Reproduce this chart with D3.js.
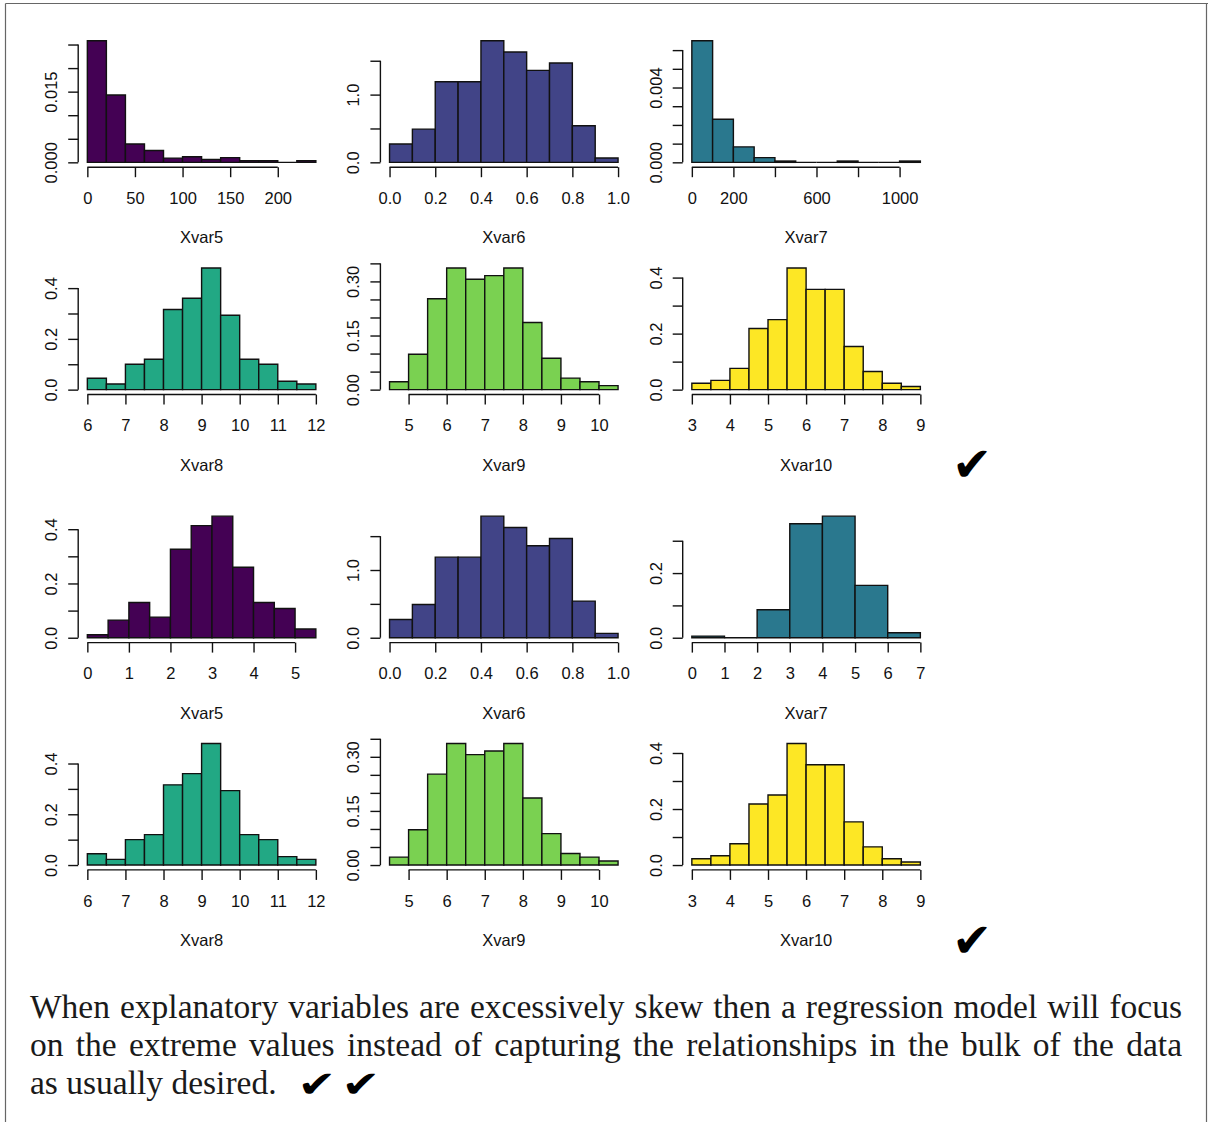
<!DOCTYPE html>
<html>
<head>
<meta charset="utf-8">
<script src="https://cdn.jsdelivr.net/npm/d3@7"></script>
<style>
  html, body { margin: 0; padding: 0; background: #fff; }
  svg { display: block; }
</style>
</head>
<body>
<svg id="page" width="1208" height="1122"></svg>
<script>
// ---- Histogram data: bin edges and densities per variable ----
// Raw (skewed) versions
const xvar5RawBreaks = [0, 20, 40, 60, 80, 100, 120, 140, 160, 180, 200, 220, 240];
const xvar5RawDensity = [0.0258, 0.0143, 0.0039, 0.0025, 0.0009, 0.0012, 0.0006, 0.0010, 0.00035, 0.00035, 0, 0.00035];
const xvar7RawBreaks = [0, 100, 200, 300, 400, 500, 600, 700, 800, 900, 1000, 1100];
const xvar7RawDensity = [0.0065, 0.0023, 0.000825, 0.00025, 0.00007, 0, 0, 0.00007, 0, 0, 0.00007];
// Transformed versions
const xvar5LogBreaks = [0, 0.5, 1, 1.5, 2, 2.5, 3, 3.5, 4, 4.5, 5, 5.5];
const xvar5LogDensity = [0.011, 0.065, 0.13, 0.076, 0.326, 0.413, 0.448, 0.26, 0.13, 0.108, 0.032];
const xvar7LogBreaks = [0, 1, 2, 3, 4, 5, 6, 7];
const xvar7LogDensity = [0.005, 0, 0.0866, 0.3526, 0.376, 0.162, 0.0155];
// Unchanged variables
const xvar6Breaks = [0, 0.1, 0.2, 0.3, 0.4, 0.5, 0.6, 0.7, 0.8, 0.9, 1.0];
const xvar6Density = [0.27, 0.49, 1.19, 1.19, 1.795, 1.628, 1.358, 1.466, 0.541, 0.064];
const xvar8Breaks = [6, 6.5, 7, 7.5, 8, 8.5, 9, 9.5, 10, 10.5, 11, 11.5, 12];
const xvar8Density = [0.0447, 0.0224, 0.1, 0.12, 0.316, 0.36, 0.479, 0.293, 0.12, 0.1, 0.033, 0.0224];
const xvar9Breaks = [4.5, 5, 5.5, 6, 6.5, 7, 7.5, 8, 8.5, 9, 9.5, 10, 10.5];
const xvar9Density = [0.022, 0.098, 0.252, 0.337, 0.306, 0.316, 0.337, 0.186, 0.087, 0.032, 0.022, 0.011];
const xvar10Breaks = [3, 3.5, 4, 4.5, 5, 5.5, 6, 6.5, 7, 7.5, 8, 8.5, 9];
const xvar10Density = [0.0226, 0.033, 0.076, 0.218, 0.25, 0.434, 0.358, 0.358, 0.154, 0.065, 0.0226, 0.011];

// ---- Axis ticks and their labels ("" = tick without label) ----
const xvar5RawXTicks = [0, 50, 100, 150, 200];
const xvar5RawXLabels = ["0", "50", "100", "150", "200"];
const xvar5RawYTicks = [0, 0.005, 0.010, 0.015, 0.020, 0.025];
const xvar5RawYLabels = ["0.000", "", "", "0.015", "", ""];

const xvar6XTicks = [0, 0.2, 0.4, 0.6, 0.8, 1.0];
const xvar6XLabels = ["0.0", "0.2", "0.4", "0.6", "0.8", "1.0"];
const xvar6YTicks = [0, 0.5, 1.0, 1.5];
const xvar6YLabels = ["0.0", "", "1.0", ""];

const xvar7RawXTicks = [0, 200, 400, 600, 800, 1000];
const xvar7RawXLabels = ["0", "200", "", "600", "", "1000"];
const xvar7RawYTicks = [0, 0.001, 0.002, 0.003, 0.004, 0.005, 0.006];
const xvar7RawYLabels = ["0.000", "", "", "", "0.004", "", ""];

const xvar8XTicks = [6, 7, 8, 9, 10, 11, 12];
const xvar8XLabels = ["6", "7", "8", "9", "10", "11", "12"];
const xvar8YTicks = [0, 0.1, 0.2, 0.3, 0.4];
const xvar8YLabels = ["0.0", "", "0.2", "", "0.4"];

const xvar9XTicks = [5, 6, 7, 8, 9, 10];
const xvar9XLabels = ["5", "6", "7", "8", "9", "10"];
const xvar9YTicks = [0, 0.05, 0.10, 0.15, 0.20, 0.25, 0.30, 0.35];
const xvar9YLabels = ["0.00", "", "", "0.15", "", "", "0.30", ""];

const xvar10XTicks = [3, 4, 5, 6, 7, 8, 9];
const xvar10XLabels = ["3", "4", "5", "6", "7", "8", "9"];
const xvar10YTicks = [0, 0.1, 0.2, 0.3, 0.4];
const xvar10YLabels = ["0.0", "", "0.2", "", "0.4"];

const xvar5LogXTicks = [0, 1, 2, 3, 4, 5];
const xvar5LogXLabels = ["0", "1", "2", "3", "4", "5"];
const xvar5LogYTicks = [0, 0.1, 0.2, 0.3, 0.4];
const xvar5LogYLabels = ["0.0", "", "0.2", "", "0.4"];

const xvar7LogXTicks = [0, 1, 2, 3, 4, 5, 6, 7];
const xvar7LogXLabels = ["0", "1", "2", "3", "4", "5", "6", "7"];
const xvar7LogYTicks = [0, 0.1, 0.2, 0.3];
const xvar7LogYLabels = ["0.0", "", "0.2", ""];

const variableNames = ["Xvar5", "Xvar6", "Xvar7", "Xvar8", "Xvar9", "Xvar10"];
const viridis6 = ["#440154", "#414487", "#2A788E", "#22A884", "#7AD151", "#FDE725"];

const paragraphLines = [
  "When explanatory variables are excessively skew then a regression model will focus",
  "on the extreme values instead of capturing the relationships in the bulk of the data",
  "as usually desired."
];
const checkMark = "\u2714";

// ---- Panel assembly ----
function panel(name, color, breaks, density, xt, xl, yt, yl) {
  return { name, color, breaks, density, xt, xl, yt, yl };
}
const rowSkewTop = [
  panel(variableNames[0], viridis6[0], xvar5RawBreaks, xvar5RawDensity, xvar5RawXTicks, xvar5RawXLabels, xvar5RawYTicks, xvar5RawYLabels),
  panel(variableNames[1], viridis6[1], xvar6Breaks, xvar6Density, xvar6XTicks, xvar6XLabels, xvar6YTicks, xvar6YLabels),
  panel(variableNames[2], viridis6[2], xvar7RawBreaks, xvar7RawDensity, xvar7RawXTicks, xvar7RawXLabels, xvar7RawYTicks, xvar7RawYLabels)
];
const rowCommon = [
  panel(variableNames[3], viridis6[3], xvar8Breaks, xvar8Density, xvar8XTicks, xvar8XLabels, xvar8YTicks, xvar8YLabels),
  panel(variableNames[4], viridis6[4], xvar9Breaks, xvar9Density, xvar9XTicks, xvar9XLabels, xvar9YTicks, xvar9YLabels),
  panel(variableNames[5], viridis6[5], xvar10Breaks, xvar10Density, xvar10XTicks, xvar10XLabels, xvar10YTicks, xvar10YLabels)
];
const rowTransTop = [
  panel(variableNames[0], viridis6[0], xvar5LogBreaks, xvar5LogDensity, xvar5LogXTicks, xvar5LogXLabels, xvar5LogYTicks, xvar5LogYLabels),
  panel(variableNames[1], viridis6[1], xvar6Breaks, xvar6Density, xvar6XTicks, xvar6XLabels, xvar6YTicks, xvar6YLabels),
  panel(variableNames[2], viridis6[2], xvar7LogBreaks, xvar7LogDensity, xvar7LogXTicks, xvar7LogXLabels, xvar7LogYTicks, xvar7LogYLabels)
];
const rows = [rowSkewTop, rowCommon, rowTransTop, rowCommon];

// ---- Layout ----
const colLeft = [78.2, 380.4, 682.7];
const rowBottom = [167.2, 394.5, 642.6, 869.9];
const plotW = 246.8, plotH = 131.3;
const fontSans = "'Liberation Sans', Arial, Helvetica, sans-serif";
const ink = "#111";

const svg = d3.select("#page");

// page frame
const frame = svg.append("g").attr("stroke", "#666").attr("stroke-width", 1.2).attr("fill", "none");
frame.append("line").attr("x1", 5.5).attr("x2", 1208).attr("y1", 3.5).attr("y2", 3.5);
frame.append("line").attr("x1", 5.5).attr("x2", 5.5).attr("y1", 3.5).attr("y2", 1122);
frame.append("line").attr("x1", 1206.5).attr("x2", 1206.5).attr("y1", 3.5).attr("y2", 1122);

function drawHist(p, left, bottom) {
  const b0 = p.breaks[0], b1 = p.breaks[p.breaks.length - 1];
  const xr = b1 - b0;
  const m = d3.max(p.density);
  const x = d3.scaleLinear().domain([b0 - 0.04 * xr, b1 + 0.04 * xr]).range([left, left + plotW]);
  const y = d3.scaleLinear().domain([-0.04 * m, 1.04 * m]).range([bottom, bottom - plotH]);
  const g = svg.append("g");

  // bars (paths so that empty bins still show as a line)
  g.selectAll("path.bar").data(p.density).join("path")
    .attr("class", "bar")
    .attr("d", (d, i) => {
      const xa = x(p.breaks[i]), xb = x(p.breaks[i + 1]);
      return `M${xa},${y(0)}V${y(d)}H${xb}V${y(0)}Z`;
    })
    .attr("fill", p.color)
    .attr("stroke", ink)
    .attr("stroke-width", 1.4)
    .attr("stroke-linejoin", "miter");

  // x axis
  const xa = g.append("g").attr("transform", `translate(0,${bottom})`)
    .call(d3.axisBottom(x).tickValues(p.xt).tickFormat((d, i) => p.xl[i]).tickSize(10).tickSizeOuter(0).tickPadding(15));
  xa.select(".domain").attr("d", `M${x(p.xt[0])},0H${x(p.xt[p.xt.length - 1])}`);
  xa.selectAll("line, .domain").attr("stroke", ink).attr("stroke-width", 1.4);
  xa.selectAll("text").attr("font-family", fontSans).attr("font-size", 16.5).attr("fill", ink);

  // y axis with labels parallel to the axis
  const ya = g.append("g").attr("transform", `translate(${left},0)`)
    .call(d3.axisLeft(y).tickValues(p.yt).tickFormat((d, i) => p.yl[i]).tickSize(10).tickSizeOuter(0));
  ya.select(".domain").attr("d", `M0,${y(p.yt[0])}V${y(p.yt[p.yt.length - 1])}`);
  ya.selectAll("line, .domain").attr("stroke", ink).attr("stroke-width", 1.4);
  ya.selectAll("text")
    .attr("x", null).attr("dy", null)
    .attr("transform", "translate(-21,0) rotate(-90)")
    .attr("text-anchor", "middle")
    .attr("font-family", fontSans).attr("font-size", 16.5).attr("fill", ink);
  g.selectAll(".domain").attr("fill", "none");
  xa.attr("font-family", null).attr("font-size", null);
  ya.attr("font-family", null).attr("font-size", null);

  // axis title
  g.append("text")
    .attr("x", left + plotW / 2).attr("y", bottom + 76)
    .attr("text-anchor", "middle")
    .attr("font-family", fontSans).attr("font-size", 16.5).attr("fill", ink)
    .text(p.name);
}

rows.forEach((row, r) => row.forEach((p, c) => drawHist(p, colLeft[c], rowBottom[r])));

// check marks beside each figure
[464.5, 940.5].forEach(cy => {
  svg.append("text").attr("x", 972).attr("y", cy + 16)
    .attr("text-anchor", "middle")
    .attr("font-family", "'DejaVu Sans', sans-serif").attr("font-size", 48).attr("fill", "#000")
    .text(checkMark);
});

// paragraph below the figures, justified over the first two lines
const textLeft = 30, textRight = 1182;
const serif = "'Liberation Serif', 'Times New Roman', serif";
const baselines = [1018, 1056, 1094];
paragraphLines.forEach((line, li) => {
  const t = svg.append("text").attr("y", baselines[li])
    .attr("font-family", serif).attr("font-size", 33.5).attr("fill", "#1a1a1a");
  const words = line.split(" ");
  if (li < 2) {
    const spans = words.map(w => t.append("tspan").attr("y", baselines[li]).text(w));
    const widths = spans.map(s => s.node().getComputedTextLength());
    const gap = (textRight - textLeft - d3.sum(widths)) / (words.length - 1);
    let cx = textLeft;
    spans.forEach((s, i) => { s.attr("x", cx); cx += widths[i] + gap; });
  } else {
    t.attr("x", textLeft).text(line);
  }
});
// check marks after the last line, widened horizontally
[317, 361].forEach(cx => {
  svg.append("text")
    .attr("transform", `translate(${cx},1097) scale(1.25,1)`)
    .attr("text-anchor", "middle")
    .attr("font-family", "'DejaVu Sans', sans-serif").attr("font-size", 37).attr("fill", "#000")
    .text(checkMark);
});
</script>
</body>
</html>
